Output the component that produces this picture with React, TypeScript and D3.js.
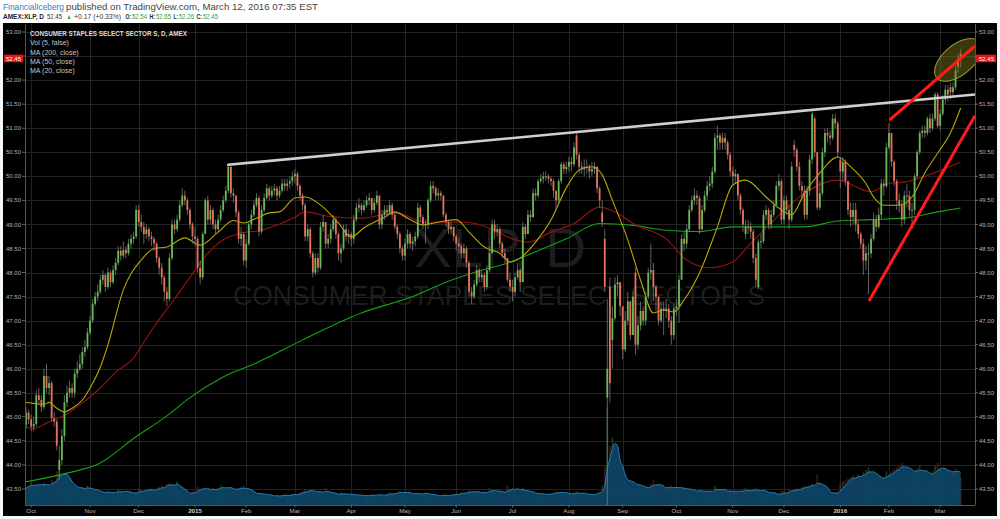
import React from "react";
import * as d3 from "d3";

// ---------- categories ----------
const startDate = "2014-09-29";
const endDate = "2016-03-11";
const holidays = [
  "2014-11-27", "2014-12-25", "2015-01-01", "2015-01-19", "2015-02-16", "2015-04-03",
  "2015-05-25", "2015-07-03", "2015-09-07", "2015-11-26", "2015-12-25", "2016-01-01",
  "2016-01-18", "2016-02-15",
];
const monthNames = ["Jan", "Feb", "Mar", "Apr", "May", "Jun", "Jul", "Aug", "Sep", "Oct", "Nov", "Dec"];

// ---------- price data (daily) ----------
const closes = [
  45.09, 44.95,
  44.80, 44.85, 45.45, 45.35, 45.20, 45.85, 45.60, 45.70, 44.97, 44.90, 44.40, 44.10, 44.60, 45.30, 45.50, 45.60, 45.50, 45.90, 46.00, 46.10, 46.35, 46.45, 46.75,
  47.00, 47.35, 47.50, 47.60, 47.85, 47.95, 47.70, 48.00, 47.80, 48.05, 48.20, 48.45, 48.35, 48.47, 48.40, 48.60, 48.70, 48.75, 49.30,
  49.05, 48.95, 48.80, 48.90, 48.75, 48.70, 48.60, 48.30, 48.10, 47.90, 47.60, 47.45, 48.30, 49.00, 48.90, 49.10, 49.40, 49.60, 49.50, 49.30, 49.00, 48.75,
  48.70, 48.10, 47.90, 48.80, 49.50, 49.10, 49.30, 49.00, 48.90, 49.10, 49.30, 49.50, 49.70, 50.20, 49.65, 49.60, 49.25, 48.70, 48.80, 48.25,
  48.60, 49.00, 49.20, 49.40, 49.55, 48.85, 49.30, 49.55, 49.75, 49.60, 49.70, 49.75, 49.60, 49.70, 49.85, 49.80, 49.85, 49.90, 50.00,
  50.05, 49.80, 49.60, 49.40, 48.75, 48.90, 48.40, 48.00, 48.30, 48.10, 48.95, 49.05, 48.60, 48.70, 48.90, 49.10, 48.80, 48.40, 48.50, 48.90, 48.75, 48.80,
  48.70, 49.10, 49.35, 49.40, 49.30, 49.40, 49.50, 49.55, 49.30, 49.45, 49.60, 49.00, 49.20, 49.30, 49.25, 49.40, 49.20, 48.95, 48.80, 48.50, 48.35,
  48.60, 48.80, 48.60, 48.65, 48.75, 49.35, 49.15, 49.00, 49.00, 49.50, 49.80, 49.75, 49.60, 49.65, 49.60, 49.20, 49.05, 48.90, 48.95, 48.75,
  48.60, 48.55, 48.40, 48.50, 48.20, 47.60, 47.50, 47.75, 48.05, 47.90, 47.95, 47.70, 48.05, 48.40, 49.00, 48.85, 48.90, 48.60, 48.40, 48.30, 47.85, 47.70,
  47.60, 47.90, 48.05, 47.80, 48.95, 48.80, 49.20, 49.15, 49.65, 49.60, 49.90, 49.95, 50.00, 50.00, 49.95, 49.90, 49.70, 49.50, 49.90, 50.25, 50.15, 50.20,
  50.30, 50.25, 50.60, 50.45, 50.20, 50.15, 50.20, 50.20, 50.10, 50.15, 50.20, 49.75, 49.50, 49.05, 47.70, 46.00, 45.70, 47.05, 47.75, 47.80, 47.30,
  46.40, 47.00, 47.40, 46.70, 47.50, 46.50, 46.90, 47.20, 47.00, 47.50, 48.00, 48.05, 47.70, 47.50, 47.00, 47.25, 47.20, 47.25, 47.00, 46.70, 47.25,
  47.30, 47.85, 48.70, 48.60, 48.90, 49.30, 49.50, 49.60, 49.55, 48.90, 49.30, 49.60, 49.80, 49.85, 50.10, 50.80, 50.85, 50.70, 50.80, 50.70, 50.45, 50.10,
  50.00, 50.05, 49.60, 49.30, 49.00, 48.95, 48.95, 48.85, 48.30, 47.85, 48.63, 48.65, 49.20, 49.30, 49.00, 49.20, 49.40, 49.80, 49.90, 49.10,
  49.50, 49.30, 49.10, 50.20, 50.55, 50.20, 49.80, 49.70, 49.20, 49.70, 50.35, 51.30, 50.50, 49.35, 49.65, 50.50, 50.90, 50.85, 50.80, 51.20, 51.10, 50.50,
  50.10, 50.30, 49.90, 49.30, 49.15, 49.30, 49.00, 48.80, 48.60, 48.25, 48.40, 48.40, 48.70, 49.10, 48.95, 49.20, 49.85, 49.80, 50.60,
  50.90, 50.30, 49.90, 49.50, 49.40, 49.10, 49.60, 49.60, 49.30, 49.30, 50.00, 50.50, 50.90, 50.95, 50.90, 51.20, 51.00, 51.20, 51.70, 51.05,
  51.30, 51.60, 51.80, 51.70, 51.75, 51.85, 52.20, 52.28, 52.45,
];
const highs = [
  45.20, 45.15,
  45.05, 45.00, 45.55, 45.60, 45.45, 46.00, 46.10, 45.85, 45.75, 45.10, 44.95, 44.40, 44.75, 45.45, 45.65, 45.75, 45.70, 46.00, 46.15, 46.30, 46.45, 46.60, 46.85,
  47.10, 47.45, 47.60, 47.75, 47.95, 48.05, 47.98, 48.10, 48.05, 48.15, 48.30, 48.55, 48.55, 48.65, 48.55, 48.70, 48.80, 48.85, 49.40,
  49.40, 49.20, 49.05, 49.00, 48.95, 48.85, 48.75, 48.65, 48.35, 48.20, 47.95, 47.70, 48.40, 49.10, 49.10, 49.20, 49.50, 49.75, 49.70, 49.55, 49.35, 49.05,
  48.95, 48.75, 48.25, 48.85, 49.55, 49.60, 49.40, 49.35, 49.10, 49.20, 49.40, 49.60, 49.80, 50.25, 50.10, 49.75, 49.55, 49.30, 48.95, 48.85,
  48.70, 49.05, 49.30, 49.50, 49.65, 49.60, 49.40, 49.65, 49.85, 49.80, 49.80, 49.85, 49.80, 49.80, 49.95, 49.95, 49.95, 50.00, 50.10,
  50.15, 50.10, 49.85, 49.65, 49.45, 49.00, 48.95, 48.45, 48.40, 48.40, 49.05, 49.20, 49.05, 48.80, 49.00, 49.20, 49.15, 48.85, 48.60, 49.00, 49.00, 48.90,
  48.85, 49.20, 49.45, 49.55, 49.45, 49.50, 49.60, 49.65, 49.55, 49.55, 49.70, 49.60, 49.30, 49.40, 49.40, 49.50, 49.45, 49.25, 49.00, 48.85, 48.55,
  48.70, 48.90, 48.85, 48.75, 48.85, 49.45, 49.40, 49.20, 49.10, 49.55, 49.90, 49.90, 49.80, 49.75, 49.70, 49.60, 49.25, 49.10, 49.05, 48.95,
  48.80, 48.70, 48.60, 48.60, 48.55, 48.25, 47.70, 47.85, 48.15, 48.10, 48.05, 48.00, 48.15, 48.55, 49.10, 49.10, 49.00, 48.95, 48.65, 48.50, 48.30, 48.00,
  47.85, 48.00, 48.20, 48.10, 49.05, 49.00, 49.30, 49.30, 49.75, 49.75, 49.95, 50.05, 50.10, 50.10, 50.05, 50.00, 49.95, 49.70, 49.95, 50.30, 50.30, 50.30,
  50.40, 50.40, 50.70, 50.93, 50.50, 50.30, 50.35, 50.35, 50.25, 50.30, 50.30, 50.20, 49.80, 49.50, 48.90, 47.45, 47.90, 47.30, 47.90, 47.95, 47.75,
  46.90, 47.20, 47.60, 47.25, 47.60, 48.10, 47.10, 47.40, 47.30, 47.60, 48.10, 48.60, 48.20, 47.75, 47.45, 47.40, 47.40, 47.45, 47.35, 47.10, 47.35,
  47.45, 47.95, 48.80, 48.85, 49.00, 49.40, 49.60, 49.75, 49.70, 49.60, 49.40, 49.70, 49.90, 50.00, 50.20, 50.90, 51.05, 50.90, 50.90, 50.90, 50.75, 50.50,
  50.20, 50.15, 50.05, 49.65, 49.35, 49.10, 49.10, 49.05, 48.90, 48.40, 48.70, 48.80, 49.30, 49.40, 49.35, 49.30, 49.50, 49.90, 50.05, 49.95,
  49.60, 49.60, 49.40, 50.30, 50.75, 50.60, 50.30, 49.90, 49.80, 49.80, 50.45, 51.35, 51.25, 50.40, 49.90, 50.60, 51.00, 51.00, 50.95, 51.30, 51.30, 51.15,
  50.40, 50.40, 50.35, 49.90, 49.45, 49.45, 49.45, 49.10, 48.85, 48.70, 48.55, 48.60, 48.80, 49.25, 49.20, 49.35, 49.95, 49.95, 50.70,
  51.10, 50.85, 50.35, 49.95, 49.65, 49.50, 49.70, 49.85, 49.70, 49.45, 50.05, 50.55, 50.95, 51.05, 51.05, 51.25, 51.30, 51.30, 51.75, 51.75,
  51.40, 51.70, 51.90, 51.90, 51.95, 51.95, 52.30, 52.55, 52.65,
];
const lows = [
  44.75, 44.85,
  44.70, 44.70, 44.80, 45.25, 45.10, 45.15, 45.50, 45.45, 44.90, 44.80, 44.30, 43.70, 44.00, 44.50, 45.20, 45.40, 45.40, 45.40, 45.80, 45.95, 46.00, 46.25, 46.40,
  46.70, 46.95, 47.30, 47.40, 47.55, 47.75, 47.60, 47.65, 47.70, 47.75, 47.95, 48.15, 48.25, 48.30, 48.30, 48.35, 48.50, 48.60, 48.70,
  48.95, 48.85, 48.60, 48.70, 48.65, 48.55, 48.45, 48.20, 47.95, 47.75, 47.40, 47.30, 47.40, 48.25, 48.80, 48.85, 49.05, 49.35, 49.40, 49.20, 48.90, 48.60,
  48.55, 48.00, 47.75, 47.85, 48.80, 49.00, 49.00, 48.90, 48.80, 48.85, 49.05, 49.25, 49.45, 49.65, 49.55, 49.45, 49.15, 48.60, 48.55, 48.15,
  48.10, 48.55, 48.90, 49.15, 49.35, 48.75, 48.80, 49.25, 49.50, 49.50, 49.55, 49.60, 49.50, 49.55, 49.65, 49.70, 49.70, 49.75, 49.80,
  49.85, 49.70, 49.50, 49.30, 48.65, 48.65, 48.30, 47.90, 47.95, 48.00, 48.05, 48.85, 48.50, 48.50, 48.60, 48.85, 48.70, 48.25, 48.20, 48.45, 48.65, 48.60,
  48.55, 48.60, 49.05, 49.25, 49.20, 49.25, 49.35, 49.40, 49.20, 49.25, 49.40, 48.90, 48.90, 49.10, 49.15, 49.20, 49.10, 48.90, 48.70, 48.40, 48.25,
  48.25, 48.50, 48.50, 48.45, 48.55, 48.70, 49.05, 48.90, 48.60, 48.90, 49.45, 49.65, 49.50, 49.50, 49.50, 49.15, 48.95, 48.80, 48.80, 48.65,
  48.45, 48.40, 48.30, 48.30, 48.10, 47.50, 47.35, 47.45, 47.70, 47.80, 47.80, 47.60, 47.65, 48.00, 48.40, 48.70, 48.75, 48.50, 48.30, 48.20, 47.80, 47.60,
  47.40, 47.50, 47.85, 47.60, 47.80, 48.70, 48.80, 49.05, 49.15, 49.50, 49.55, 49.85, 49.85, 49.90, 49.85, 49.80, 49.55, 49.30, 49.45, 49.85, 50.05, 50.05,
  50.10, 50.10, 50.20, 50.35, 50.05, 50.05, 50.00, 50.05, 49.95, 50.00, 50.05, 49.65, 49.35, 48.95, 47.60, 40.90, 45.30, 46.00, 47.00, 47.50, 47.10,
  46.20, 46.35, 46.90, 46.60, 46.70, 46.30, 46.40, 46.80, 46.90, 46.90, 47.45, 47.85, 47.40, 47.20, 46.90, 46.95, 46.70, 47.05, 46.85, 46.50, 46.60,
  47.10, 46.95, 48.00, 48.45, 48.50, 48.85, 49.25, 49.40, 49.40, 48.80, 48.85, 49.25, 49.50, 49.70, 49.75, 50.05, 50.55, 50.55, 50.55, 50.55, 50.35, 50.00,
  49.85, 49.85, 49.50, 49.20, 48.85, 48.70, 48.80, 48.70, 48.20, 47.70, 47.65, 48.50, 48.60, 49.10, 48.90, 48.90, 49.15, 49.35, 49.70, 49.00,
  49.00, 49.20, 48.90, 49.05, 50.40, 50.10, 49.70, 49.50, 49.10, 49.10, 49.60, 50.25, 50.40, 49.30, 49.30, 49.60, 50.40, 50.70, 50.65, 50.75, 51.00, 50.40,
  49.75, 49.90, 49.80, 49.20, 48.95, 49.00, 48.85, 48.70, 48.50, 47.95, 48.05, 47.55, 48.30, 48.65, 48.85, 48.90, 49.10, 49.60, 49.75,
  50.55, 50.20, 49.80, 49.30, 49.25, 48.95, 49.00, 49.35, 49.15, 48.90, 49.20, 49.95, 50.45, 50.80, 50.80, 50.85, 50.90, 50.95, 51.15, 51.00,
  50.95, 51.25, 51.50, 51.55, 51.60, 51.65, 51.80, 52.15, 52.26,
];
// opens follow the prior close except these gap days: [dayIndex, open]
const gapOpens: [number, number][] = [
  [0, 44.83], [13, 43.90], [215, 50.85], [225, 49.25], [226, 48.70], [227, 45.40], [228, 47.70],
  [229, 46.60], [238, 48.00], [281, 48.80], [286, 47.70], [300, 50.65], [308, 51.20], [318, 50.35],
  [361, 51.85], [364, 52.45], [365, 52.54],
];
// daily volume, millions of shares
const volumes = [
  12, 14,
  16, 14, 15, 13, 14, 16, 15, 13, 18, 17, 24, 28, 22, 19, 16, 14, 13, 12, 11, 12, 13, 11, 14,
  10, 11, 9, 10, 9, 8, 9, 10, 9, 8, 9, 11, 10, 9, 10, 8, 9, 7, 9,
  12, 11, 10, 10, 11, 12, 10, 12, 13, 14, 13, 15, 16, 14, 13, 17, 10, 9, 8, 7, 8, 10,
  10, 13, 12, 12, 11, 10, 11, 12, 11, 12, 14, 13, 11, 12, 12, 11, 10, 12, 13, 14,
  10, 9, 8, 8, 7, 9, 8, 7, 7, 6, 7, 6, 7, 6, 7, 8, 7, 6, 8,
  8, 8, 9, 10, 11, 10, 11, 9, 8, 9, 10, 9, 12, 8, 7, 8, 7, 8, 9, 8, 7, 7,
  7, 8, 7, 7, 6, 6, 7, 7, 8, 7, 6, 8, 7, 7, 8, 9, 8, 8, 9, 10, 9,
  9, 8, 8, 7, 8, 9, 8, 7, 9, 8, 7, 6, 7, 6, 7, 8, 7, 6, 7, 8,
  9, 8, 9, 8, 9, 11, 10, 9, 8, 9, 8, 10, 9, 12, 11, 10, 8, 9, 10, 9, 14, 11,
  12, 10, 11, 10, 12, 9, 9, 8, 9, 8, 7, 8, 8, 7, 8, 8, 9, 10, 9, 9, 8, 8,
  8, 7, 9, 10, 8, 8, 7, 7, 8, 7, 8, 9, 10, 14, 28, 70, 42, 48, 32, 20, 18,
  22, 17, 14, 15, 16, 15, 13, 12, 12, 13, 12, 15, 18, 13, 14, 12, 11, 12, 13, 14, 12,
  12, 11, 13, 12, 10, 11, 10, 10, 9, 11, 10, 9, 10, 9, 10, 14, 12, 10, 9, 10, 9, 11,
  10, 9, 10, 9, 11, 12, 10, 9, 11, 12, 10, 9, 10, 9, 8, 8, 9, 7, 6, 10,
  10, 9, 11, 10, 11, 12, 11, 13, 14, 13, 14, 15, 14, 22, 12, 11, 10, 8, 7, 8, 9, 10,
  16, 17, 18, 19, 20, 21, 19, 22, 20, 24, 25, 27, 22, 20, 19, 18, 20, 19, 24,
  22, 24, 26, 27, 28, 30, 26, 24, 25, 22, 24, 26, 28, 23, 21, 22, 20, 24, 28, 30,
  26, 24, 22, 23, 25, 24, 26, 22, 20,
];
// moving averages: [dayIndex, value]
const ma200: [number, number][] = [
  [0, 43.65], [16, 43.83], [29, 44.04], [42, 44.55], [55, 45.02], [64, 45.4], [77, 45.83], [90, 46.12],
  [95, 46.25], [108, 46.6], [131, 47.16], [151, 47.5], [164, 47.8], [175, 48.0], [188, 48.2], [199, 48.43],
  [211, 48.7], [224, 49.02], [237, 48.98], [250, 48.88], [263, 48.85], [276, 48.95], [304, 48.95],
  [317, 49.07], [330, 49.1], [343, 49.13], [356, 49.26], [365, 49.34],
];
const ma50: [number, number][] = [
  [0, 44.79], [3, 44.76], [9, 44.9], [16, 45.06], [22, 45.29], [29, 45.6], [35, 45.93], [42, 46.22],
  [46, 46.55], [51, 46.95], [58, 47.45], [64, 47.9], [71, 48.4], [77, 48.68], [84, 48.82], [92, 48.88],
  [95, 48.93], [105, 49.15], [109, 49.26], [118, 49.17], [131, 49.13], [144, 49.24], [157, 49.03],
  [170, 49.05], [183, 48.88], [188, 48.74], [196, 48.63], [205, 48.84], [214, 49.02], [224, 49.36],
  [231, 49.23], [237, 49.02], [250, 48.7], [258, 48.26], [267, 48.1], [276, 48.22], [282, 48.55],
  [291, 49.03], [304, 49.65], [317, 49.92], [330, 49.68], [337, 49.85], [343, 49.88], [350, 49.98],
  [356, 50.1], [365, 50.3],
];
const ma20: [number, number][] = [
  [0, 45.3], [3, 45.28], [7, 45.26], [9, 45.3], [12, 45.18], [15, 45.1], [18, 45.18], [22, 45.35],
  [25, 45.6], [29, 46.03], [32, 46.5], [38, 47.64], [45, 48.26], [50, 48.5], [55, 48.53], [62, 48.72],
  [68, 48.57], [75, 48.84], [81, 49.08], [85, 49.03], [90, 49.13], [95, 49.24], [99, 49.26], [105, 49.55],
  [109, 49.57], [116, 49.36], [122, 49.03], [127, 48.74], [132, 48.93], [140, 49.15], [144, 49.26],
  [149, 49.13], [155, 48.99], [161, 49.05], [168, 49.1], [173, 48.84], [179, 48.53], [185, 48.4],
  [189, 48.22], [193, 48.3], [199, 48.63], [205, 49.09], [211, 49.76], [216, 50.13], [221, 50.2],
  [225, 50.03], [229, 49.5], [235, 48.68], [240, 47.84], [245, 47.16], [249, 47.22], [253, 47.18],
  [257, 47.43], [263, 47.99], [270, 48.95], [276, 49.82], [281, 49.92], [289, 49.57], [294, 49.34],
  [299, 49.2], [304, 49.65], [310, 50.07], [317, 50.4], [322, 50.2], [328, 49.85], [331, 49.57],
  [335, 49.4], [341, 49.4], [346, 49.57], [351, 50.07], [356, 50.48], [361, 50.9], [365, 51.42],
];
// drawn annotations in data space: [dayIndex, price]
const grayTrend: [number, number][] = [[79, 50.24], [370.6, 51.7]];
const redUpper: [number, number][] = [[337.2, 51.17], [370.6, 52.71]];
const redLower: [number, number][] = [[329.2, 47.41], [370.6, 51.26]];
const ellipseCenter: [number, number] = [364, 52.42];
const priceTicks = d3.range(43.5, 53.001, 0.5);
const lastPrice = 52.45;

// header quote line pieces: [text, x, width, color, bold]
const quoteParts: [string, number, number, string, boolean][] = [
  ["AMEX:XLP, D", 3, 41, "#222", true],
  ["52.45", 47, 15, "#333", false],
  ["▲", 66.5, 5, "#2ea043", false],
  ["+0.17 (+0.33%)", 74, 47, "#333", false],
  ["O:", 125.5, 5.5, "#222", true],
  ["52.54", 132, 15, "#2ea043", false],
  ["H:", 149.5, 5.5, "#222", true],
  ["52.65", 156, 15, "#2ea043", false],
  ["L:", 173.5, 4.5, "#222", true],
  ["52.26", 179, 15, "#2ea043", false],
  ["C:", 196.5, 5.5, "#222", true],
  ["52.45", 203, 15, "#2ea043", false],
];

function tradingDays(): Date[] {
  const hol = new Set(holidays);
  const out: Date[] = [];
  const d = new Date(startDate + "T12:00:00Z");
  const e = new Date(endDate + "T12:00:00Z");
  while (d <= e) {
    const wd = d.getUTCDay();
    const iso = d.toISOString().slice(0, 10);
    if (wd !== 0 && wd !== 6 && !hol.has(iso)) out.push(new Date(d.getTime()));
    d.setUTCDate(d.getUTCDate() + 1);
  }
  return out;
}

const FONT = "Arial, 'Liberation Sans', sans-serif";

export default function App() {
  const dates = tradingDays();
  const n = Math.min(dates.length, closes.length, highs.length, lows.length, volumes.length);
  const gapMap = new Map(gapOpens);
  const bars = d3.range(n).map((i) => {
    const c = closes[i];
    const o = gapMap.has(i) ? (gapMap.get(i) as number) : i > 0 ? closes[i - 1] : c;
    const h = Math.max(highs[i], o, c);
    const l = Math.min(lows[i], o, c);
    return { i, o, h, l, c, v: volumes[i], date: dates[i] };
  });
  const volMA = bars.map((b, i) => {
    const s = bars.slice(Math.max(0, i - 4), i + 1);
    return d3.mean(s, (d) => d.v) as number;
  });

  const L = 25, R = 975, T = 24, B = 505;
  const x = d3.scaleLinear().domain([-0.4, 370.6]).range([L, R]);
  const y = d3.scaleLinear().domain([43.5, 53]).range([489, 32]);
  const yV = d3.scaleLinear().domain([0, 50]).range([B, B - 70]);
  const bw = 1.8;

  const months: { i: number; label: string; bold: boolean }[] = [];
  dates.forEach((d, i) => {
    if (i === 0) return;
    if (d.getUTCMonth() !== dates[i - 1].getUTCMonth()) {
      const m = d.getUTCMonth();
      months.push({ i, label: m === 0 ? String(d.getUTCFullYear()) : monthNames[m], bold: m === 0 });
    }
  });

  const maLine = d3
    .line<[number, number]>()
    .x((d) => x(d[0]))
    .y((d) => y(d[1]))
    .curve(d3.curveMonotoneX);
  const volArea = d3
    .area<number>()
    .x((_, i) => x(i))
    .y0(B)
    .y1((d) => yV(d))
    .curve(d3.curveMonotoneX);
  const volLine = d3
    .line<number>()
    .x((_, i) => x(i))
    .y((d) => yV(d))
    .curve(d3.curveMonotoneX);

  const up = "#66bb55";
  const down = "#e9715a";
  const fmt = d3.format(".2f");
  const yLast = y(lastPrice);
  const axisTicks = priceTicks.filter((p) => Math.abs(y(p) - yLast) > 8);

  return (
    <svg
      width={1000}
      height={519}
      style={{ position: "absolute", left: 0, top: 0, display: "block" }}
      fontFamily={FONT}
    >
      <defs>
        <clipPath id="plot">
          <rect x={L} y={T} width={R - L} height={B - T} />
        </clipPath>
      </defs>
      <rect x={0} y={0} width={1000} height={519} fill="#f4f6f8" />
      <rect x={0} y={0} width={1000} height={23} fill="#ffffff" />
      {/* header */}
      <text x={3} y={9.5} fontSize={9} fill="#2f7fc1" textLength={61} lengthAdjust="spacingAndGlyphs">
        FinancialIceberg
      </text>
      <text x={66} y={9.5} fontSize={9} fill="#444" textLength={252} lengthAdjust="spacingAndGlyphs">
        published on TradingView.com, March 12, 2016 07:35 EST
      </text>
      {quoteParts.map(([t, px, w, col, bold], k) => (
        <text
          key={"q" + k}
          x={px}
          y={19.2}
          fontSize={7}
          fill={col}
          fontWeight={bold ? "bold" : "normal"}
          textLength={w}
          lengthAdjust="spacingAndGlyphs"
        >
          {t}
        </text>
      ))}

      {/* chart background */}
      <rect x={3} y={23} width={994} height={493} fill="#000" />

      {/* grid */}
      <g stroke="#232323" strokeWidth={1}>
        {priceTicks.map((p) => (
          <line key={"h" + p} x1={L} x2={R} y1={Math.round(y(p)) + 0.5} y2={Math.round(y(p)) + 0.5} />
        ))}
        {months.map((m) => (
          <line key={"v" + m.i} x1={Math.round(x(m.i)) + 0.5} x2={Math.round(x(m.i)) + 0.5} y1={T} y2={B} />
        ))}
      </g>

      {/* watermark */}
      <text x={500} y={267} textAnchor="middle" fontSize={56} fill="#1d1d1d" textLength={172} lengthAdjust="spacingAndGlyphs">
        XLP, D
      </text>
      <text x={499} y={305} textAnchor="middle" fontSize={28} fill="#1d1d1d" textLength={532} lengthAdjust="spacingAndGlyphs">
        CONSUMER STAPLES SELECT SECTOR S
      </text>

      <g clipPath="url(#plot)">
        {/* volume bars */}
        {bars.map((b) => (
          <rect
            key={"vb" + b.i}
            x={x(b.i) - bw / 2}
            width={bw}
            y={yV(b.v)}
            height={B - yV(b.v)}
            fill={b.c >= b.o ? "#2f7a2f" : "#8a3326"}
            opacity={0.45}
          />
        ))}
        <path d={volArea(volMA) || ""} fill="#0c4467" opacity={0.92} />
        <path d={volLine(volMA) || ""} fill="none" stroke="#2a7db3" strokeWidth={1} />

        {/* moving averages */}
        <path d={maLine(ma200) || ""} fill="none" stroke="#16a316" strokeWidth={1.1} />
        <path d={maLine(ma50) || ""} fill="none" stroke="#9b1111" strokeWidth={1.1} />
        <path d={maLine(ma20) || ""} fill="none" stroke="#b8a800" strokeWidth={1.1} />

        {/* candles */}
        {bars.map((b) => {
          const col = b.c >= b.o ? up : down;
          const top = y(Math.max(b.o, b.c));
          const bot = y(Math.min(b.o, b.c));
          return (
            <g key={"c" + b.i}>
              <line x1={x(b.i)} x2={x(b.i)} y1={y(b.h)} y2={y(b.l)} stroke="#7a7a7a" strokeWidth={0.8} />
              <rect x={x(b.i) - bw / 2} width={bw} y={top} height={Math.max(1, bot - top)} fill={col} />
            </g>
          );
        })}

        {/* annotations */}
        <line
          x1={x(grayTrend[0][0])} y1={y(grayTrend[0][1])} x2={x(grayTrend[1][0])} y2={y(grayTrend[1][1])}
          stroke="#cfcfcf" strokeWidth={2.6} strokeLinecap="round"
        />
        <ellipse
          cx={x(ellipseCenter[0])} cy={y(ellipseCenter[1])} rx={28} ry={15}
          transform={`rotate(-40 ${x(ellipseCenter[0])} ${y(ellipseCenter[1])})`}
          fill="#8a8420" fillOpacity={0.42} stroke="#9d9a35" strokeWidth={1}
        />
        <line
          x1={x(redUpper[0][0])} y1={y(redUpper[0][1])} x2={x(redUpper[1][0])} y2={y(redUpper[1][1])}
          stroke="#ff1b1b" strokeWidth={3}
        />
        <line
          x1={x(redLower[0][0])} y1={y(redLower[0][1])} x2={x(redLower[1][0])} y2={y(redLower[1][1])}
          stroke="#ff1b1b" strokeWidth={3}
        />
      </g>

      {/* legend */}
      <g fontSize={7} fill="#c4c4c4">
        <text x={30} y={36} fontWeight="bold" fill="#dcdcdc" textLength={157} lengthAdjust="spacingAndGlyphs">
          CONSUMER STAPLES SELECT SECTOR S, D, AMEX
        </text>
        <text x={30} y={45.4}>Vol (5, false)</text>
        <text x={30} y={54.6}>MA (200, close)</text>
        <text x={30} y={63.8}>MA (50, close)</text>
        <text x={30} y={73}>MA (20, close)</text>
      </g>

      {/* axes frame */}
      <g stroke="#555" strokeWidth={1}>
        <line x1={L + 0.5} x2={L + 0.5} y1={T} y2={B} />
        <line x1={R + 0.5} x2={R + 0.5} y1={T} y2={B} />
        <line x1={L} x2={R} y1={B + 0.5} y2={B + 0.5} />
      </g>

      {/* price axes */}
      <g fontSize={6} fill="#b4b4b4">
        {priceTicks.map((p) => (
          <g key={"tk" + p} stroke="#666">
            <line x1={R} x2={R + 3} y1={y(p)} y2={y(p)} />
            <line x1={L - 3} x2={L} y1={y(p)} y2={y(p)} />
          </g>
        ))}
        {axisTicks.map((p) => (
          <g key={"t" + p}>
            <text x={979} y={y(p) + 2.1}>{fmt(p)}</text>
            <text x={21} y={y(p) + 2.1} textAnchor="end">{fmt(p)}</text>
          </g>
        ))}
      </g>
      <rect x={976} y={yLast - 3.8} width={20} height={7.6} fill="#e3161c" />
      <text x={979} y={yLast + 2.1} fontSize={6} fill="#fff">{fmt(lastPrice)}</text>
      <rect x={4} y={yLast - 3.8} width={19} height={7.6} fill="#e3161c" />
      <text x={21} y={yLast + 2.1} fontSize={6} fill="#fff" textAnchor="end">{fmt(lastPrice)}</text>

      {/* time axis */}
      <g fontSize={6.2} fill="#b4b4b4">
        {months.map((m) => (
          <g key={"m" + m.i}>
            <line x1={x(m.i)} x2={x(m.i)} y1={B} y2={B + 2.5} stroke="#666" />
            <text x={x(m.i)} y={513} textAnchor="middle" fontWeight={m.bold ? "bold" : "normal"} fill={m.bold ? "#d0d0d0" : "#b4b4b4"}>
              {m.label}
            </text>
          </g>
        ))}
      </g>
    </svg>
  );
}
